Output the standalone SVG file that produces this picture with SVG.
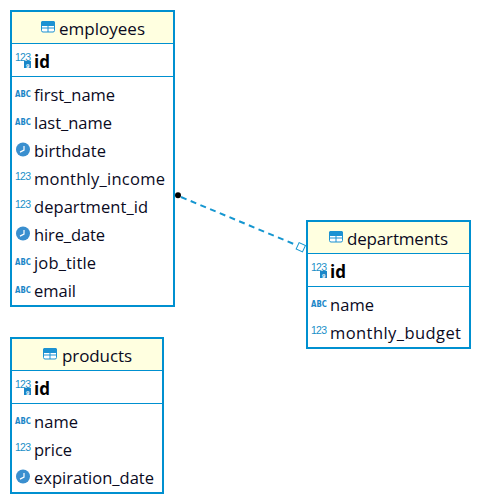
<svg xmlns="http://www.w3.org/2000/svg" width="481" height="504" viewBox="0 0 481 504">
<style>
.box{fill:#fff;stroke:#0090d0;stroke-width:2}
.head{fill:#ffffe0}
.sep{stroke:#0090d0;stroke-width:1;fill:none}
text{font-family:"Open Sans","Noto Sans","Liberation Sans",sans-serif;fill:#0a0a1e}
.t{font-size:16.5px}
.title{font-size:17px}
.pk{font-size:17px;font-weight:700;fill:#000}
.n{font-size:10.5px;fill:#1a8fc8;font-family:"Liberation Sans",sans-serif}
.a{font-size:7px;font-weight:700;fill:#1a86c8;font-family:"DejaVu Sans",sans-serif}
.k{font-size:6px;font-weight:700;fill:#fff;font-family:"Liberation Sans",sans-serif}
.conn{stroke:#1596d0;stroke-width:2;stroke-dasharray:6 4.5;fill:none}
</style>
<defs>
<g id="tbl"><rect x="0.5" y="0.5" width="13" height="10.5" rx="1.5" fill="#fff" stroke="#1c92d2"/><rect x="0" y="0" width="14" height="5" rx="1.5" fill="#1c92d2"/><path d="M0.5 7H13.5M7 4.5V11" stroke="#1c92d2" fill="none"/></g>
<g id="clk"><circle cx="7" cy="7" r="7" fill="#3a8fcf"/><path d="M8 3.5V7.6L4 9.6" stroke="#fff" stroke-width="1.2" fill="none"/></g>
<rect id="keybox" x="0" y="0" width="7" height="7" fill="#1a86c8"/>
</defs>
<g id="connectors">
<line class="conn" x1="181" y1="197" x2="295" y2="244.5"/>
<circle cx="178" cy="195.3" r="3" fill="#000"/>
<rect x="-3.5" y="-3.5" width="7" height="7" fill="#fff" stroke="#1596d0" transform="translate(300.8 247.3) rotate(25)"/>
</g>
<g id="employees">
<rect class="box" x="11" y="11" width="163" height="295"/>
<rect class="head" x="12" y="12" width="161" height="31"/>
<path class="sep" d="M12 43.5H173M12 76.5H173"/>
<use href="#tbl" x="41" y="21"/>
<text class="title" x="59" y="35" textLength="86">employees</text>
<text class="n" x="15" y="60.5" textLength="16">123</text><use href="#keybox" x="24" y="61"/><text class="k" x="26" y="68.2">9</text>
<text class="pk" x="34" y="68">id</text>
<text class="a" transform="translate(15 96.5) scale(1 1.35)">ABC</text><text class="t" x="34" y="101" textLength="81">first_name</text>
<text class="a" transform="translate(15 124.5) scale(1 1.35)">ABC</text><text class="t" x="34" y="129" textLength="78">last_name</text>
<use href="#clk" x="16" y="142.5"/><text class="t" x="34" y="157" textLength="72">birthdate</text>
<text class="n" x="15" y="180" textLength="16">123</text><text class="t" x="34" y="185" textLength="131">monthly_income</text>
<text class="n" x="15" y="208" textLength="16">123</text><text class="t" x="34" y="213" textLength="114">department_id</text>
<use href="#clk" x="16" y="226.5"/><text class="t" x="34" y="241" textLength="71">hire_date</text>
<text class="a" transform="translate(15 264.5) scale(1 1.35)">ABC</text><text class="t" x="34" y="269" textLength="62">job_title</text>
<text class="a" transform="translate(15 292.5) scale(1 1.35)">ABC</text><text class="t" x="34" y="297" textLength="42">email</text>
</g>
<g id="products">
<rect class="box" x="11" y="338" width="152" height="155"/>
<rect class="head" x="12" y="339" width="150" height="31"/>
<path class="sep" d="M12 370.5H162M12 403.5H162"/>
<use href="#tbl" x="43" y="348"/>
<text class="title" x="62" y="362" textLength="70">products</text>
<text class="n" x="15" y="387.5" textLength="16">123</text><use href="#keybox" x="24" y="388"/><text class="k" x="26" y="395.2">9</text>
<text class="pk" x="34" y="395">id</text>
<text class="a" transform="translate(15 423.5) scale(1 1.35)">ABC</text><text class="t" x="34" y="428" textLength="44">name</text>
<text class="n" x="15" y="451" textLength="16">123</text><text class="t" x="34" y="456" textLength="38">price</text>
<use href="#clk" x="16" y="469.5"/><text class="t" x="34" y="484" textLength="120">expiration_date</text>
</g>
<g id="departments">
<rect class="box" x="307" y="221" width="163" height="127"/>
<rect class="head" x="308" y="222" width="161" height="31"/>
<path class="sep" d="M308 253.5H469M308 286.5H469"/>
<use href="#tbl" x="329" y="231"/>
<text class="title" x="347" y="245" textLength="101">departments</text>
<text class="n" x="311" y="270.5" textLength="16">123</text><use href="#keybox" x="320" y="271"/><text class="k" x="322" y="278.2">9</text>
<text class="pk" x="330" y="278">id</text>
<text class="a" transform="translate(311 306.5) scale(1 1.35)">ABC</text><text class="t" x="330" y="311" textLength="44">name</text>
<text class="n" x="311" y="334" textLength="16">123</text><text class="t" x="330" y="339" textLength="131">monthly_budget</text>
</g>
</svg>
